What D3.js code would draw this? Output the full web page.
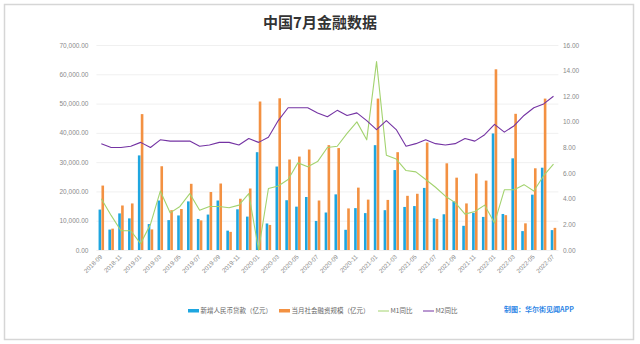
<!DOCTYPE html>
<html><head><meta charset="utf-8">
<script src="https://cdn.jsdelivr.net/npm/d3@7"></script>
<style>
html,body{margin:0;padding:0;background:#fff;}
svg{display:block;font-family:"Noto Sans CJK SC","Noto Sans",sans-serif;}
</style></head>
<body>
<svg id="chart" width="640" height="344"></svg>
<script>
const months = ["2018-09","2018-10","2018-11","2018-12","2019-01","2019-02","2019-03","2019-04","2019-05","2019-06","2019-07","2019-08","2019-09","2019-10","2019-11","2019-12","2020-01","2020-02","2020-03","2020-04","2020-05","2020-06","2020-07","2020-08","2020-09","2020-10","2020-11","2020-12","2021-01","2021-02","2021-03","2021-04","2021-05","2021-06","2021-07","2021-08","2021-09","2021-10","2021-11","2021-12","2022-01","2022-02","2022-03","2022-04","2022-05","2022-06","2022-07"];
const loans = [13800,6970,12500,10800,32300,8858,16900,10200,11800,16600,10600,12100,16900,6613,13900,11400,33400,9057,28500,17000,14800,18100,9927,12800,19000,6898,14300,12600,35800,13600,27300,14700,15000,21200,10800,12200,16600,8262,12700,11300,39800,12300,31300,6454,18900,28100,6790];
const tsf = [22000,7288,15200,15898,46400,7030,28600,13600,14000,22600,10100,19800,22700,6189,17500,21000,50700,8554,51800,30900,31900,34300,16900,35800,34800,14200,21300,17200,51700,17100,33400,18500,19200,36700,10600,29600,24700,15900,26100,23700,61700,11900,46500,9102,27900,51700,7561];
const m1 = [4.0,2.7,1.5,1.5,0.5,2.0,4.6,2.9,3.4,4.4,3.1,3.4,3.4,3.3,3.5,4.4,0.0,4.8,5.0,5.5,6.8,6.5,6.9,8.0,8.1,9.1,10.0,8.6,14.7,7.4,7.1,6.2,6.1,5.5,4.9,4.2,3.7,2.8,3.0,3.5,2.1,4.7,4.7,5.1,4.6,5.8,6.7];
const m2 = [8.3,8.0,8.0,8.1,8.4,8.0,8.6,8.5,8.5,8.5,8.1,8.2,8.4,8.4,8.2,8.7,8.4,8.8,10.1,11.1,11.1,11.1,10.7,10.4,10.9,10.5,10.7,10.1,9.4,10.1,9.4,8.1,8.3,8.6,8.3,8.2,8.3,8.7,8.5,9.0,9.8,9.2,9.7,10.5,11.1,11.4,12.0];
const xTickLabels = months.filter((d,i)=>i%2===0);
const leftTicks = [0,10000,20000,30000,40000,50000,60000,70000];
const rightTicks = [0,2,4,6,8,10,12,14,16];
const seriesNames = ["新增人民币贷款（亿元）","当月社会融资规模（亿元）","M1同比","M2同比"];
const titleText = "中国7月金融数据";
const creditText = "制图：华尔街见闻APP";

const C = {blue:"#1ea6e0", orange:"#f39142", green:"#a3d36f", purple:"#7433a3", axis:"#8a8a8a", grid:"#f0f0f0"};

const svg = d3.select("#chart");
svg.append("rect").attr("x",4.5).attr("y",4.5).attr("width",629).attr("height",335)
  .attr("fill","#fff").attr("stroke","#d6d6d6").attr("stroke-width",1.5);

const pTop=45, pBottom=250, pLeft=96.4, pRight=558.4;
const x = d3.scaleBand().domain(months).range([pLeft,pRight]).paddingInner(0.44).paddingOuter(0.22);
const x1 = d3.scaleBand().domain(["loans","tsf"]).range([0,x.bandwidth()]).paddingInner(0.1);
const yL = d3.scaleLinear().domain([0,70000]).range([pBottom,pTop]);
const yR = d3.scaleLinear().domain([0,16]).range([pBottom,pTop]);
const cx = m => x(m)+x.bandwidth()/2;

svg.append("g").selectAll("line").data(leftTicks).join("line")
  .attr("x1",pLeft).attr("x2",pRight).attr("y1",d=>yL(d)+0.5).attr("y2",d=>yL(d)+0.5)
  .attr("stroke",C.grid).attr("stroke-width",1);

const gL = svg.append("g").attr("transform",`translate(${pLeft-8},0)`)
  .call(d3.axisLeft(yL).tickValues(leftTicks).tickFormat(d3.format(",.2f")).tickSize(0));
gL.select(".domain").remove();
gL.selectAll("text").attr("fill",C.axis).attr("font-size",6.5).attr("x",0).attr("dy","0.32em");

const gR = svg.append("g").attr("transform",`translate(${pRight+4.5},0)`)
  .call(d3.axisRight(yR).tickValues(rightTicks).tickFormat(d3.format(".2f")).tickSize(0));
gR.select(".domain").remove();
gR.selectAll("text").attr("fill",C.axis).attr("font-size",6.5).attr("x",0).attr("dy","0.32em");

const gX = svg.append("g").attr("transform",`translate(0,${pBottom+6})`)
  .call(d3.axisBottom(x).tickValues(xTickLabels).tickSize(0));
gX.select(".domain").remove();
gX.selectAll("text").attr("fill",C.axis).attr("font-size",6.2)
  .attr("text-anchor","end").attr("y",0).attr("dy","0.3em").attr("dx","0")
  .attr("transform","rotate(-45)");

const bars = svg.append("g");
bars.selectAll("rect.loan").data(months).join("rect").attr("class","loan")
  .attr("x",(m)=>x(m)+x1("loans")).attr("width",x1.bandwidth())
  .attr("y",(m,i)=>yL(loans[i])).attr("height",(m,i)=>yL(0)-yL(loans[i]))
  .attr("fill",C.blue);
bars.selectAll("rect.tsf").data(months).join("rect").attr("class","tsf")
  .attr("x",(m)=>x(m)+x1("tsf")).attr("width",x1.bandwidth())
  .attr("y",(m,i)=>yL(tsf[i])).attr("height",(m,i)=>yL(0)-yL(tsf[i]))
  .attr("fill",C.orange);

const line = d3.line().x(d=>cx(d.m)).y(d=>yR(d.v));
svg.append("path").datum(months.map((m,i)=>({m,v:m1[i]})))
  .attr("d",line).attr("fill","none").attr("stroke",C.green).attr("stroke-width",1.1).attr("stroke-linejoin","round");
svg.append("path").datum(months.map((m,i)=>({m,v:m2[i]})))
  .attr("d",line).attr("fill","none").attr("stroke",C.purple).attr("stroke-width",1.1).attr("stroke-linejoin","round");

svg.append("text").attr("x",320).attr("y",27.5).attr("text-anchor","middle")
  .attr("font-size",15).attr("font-weight","bold").attr("fill","#333").text(titleText);

const ly = 311;
const lg = svg.append("g").attr("font-size",6.5).attr("fill","#666");
const items = [
  {x:188, type:"rect", color:C.blue, text:seriesNames[0]},
  {x:279, type:"rect", color:C.orange, text:seriesNames[1]},
  {x:378, type:"line", color:C.green, text:seriesNames[2]},
  {x:423, type:"line", color:C.purple, text:seriesNames[3]}
];
items.forEach(it=>{
  if(it.type==="rect"){
    lg.append("rect").attr("x",it.x).attr("y",ly-2).attr("width",11).attr("height",3.5).attr("fill",it.color);
  } else {
    lg.append("line").attr("x1",it.x).attr("x2",it.x+11).attr("y1",ly).attr("y2",ly).attr("stroke",it.color).attr("stroke-width",1);
  }
  lg.append("text").attr("x",it.x+12.5).attr("y",ly).attr("dy","0.35em").attr("fill","#666").text(it.text);
});
svg.append("text").attr("x",504).attr("y",310).attr("dy","0.35em").attr("font-size",7)
  .attr("font-weight","bold").attr("fill","#2f86e6").text(creditText);
</script>
</body></html>
